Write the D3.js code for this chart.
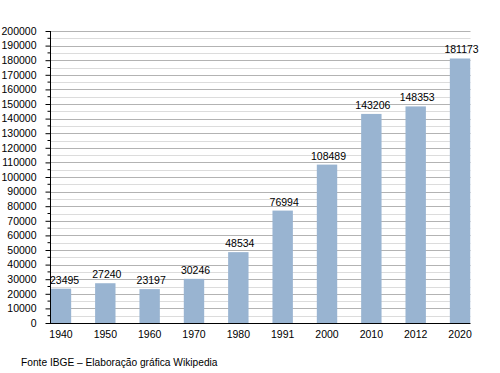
<!DOCTYPE html>
<html>
<head>
<meta charset="utf-8">
<script src="https://cdn.jsdelivr.net/npm/d3@7"></script>
<style>
  html, body { margin: 0; padding: 0; background: #fff; }
  svg { display: block; }
  text { font-family: "Liberation Sans", Arial, sans-serif; fill: #000; }
</style>
</head>
<body>
<svg id="chart" width="500" height="373"></svg>
<script>
const years = ["1940", "1950", "1960", "1970", "1980", "1991", "2000", "2010", "2012", "2020"];
const population = [23495, 27240, 23197, 30246, 48534, 76994, 108489, 143206, 148353, 181173];
const yTicks = d3.range(0, 200001, 10000);
const yMinorTicks = d3.range(5000, 200000, 10000);
const footer = "Fonte IBGE – Elaboração gráfica Wikipedia";

const svg = d3.select("#chart");
const plot = { left: 50, right: 470.5, top: 31, bottom: 323 };

const y = d3.scaleLinear().domain([0, 200000]).range([plot.bottom, plot.top]);
const x = d3.scaleBand().domain(years).range([38.8, 482.2])
  .paddingInner(0.54).paddingOuter(0.27);

// minor gridlines
svg.append("g").selectAll("line").data(yMinorTicks).join("line")
  .attr("x1", plot.left).attr("x2", plot.right)
  .attr("y1", d => Math.round(y(d)) + 0.5).attr("y2", d => Math.round(y(d)) + 0.5)
  .attr("stroke", "#dcdcdc").attr("stroke-width", 1);

// major gridlines
svg.append("g").selectAll("line").data(yTicks.filter(d => d > 0)).join("line")
  .attr("x1", plot.left).attr("x2", plot.right)
  .attr("y1", d => Math.round(y(d)) + 0.5).attr("y2", d => Math.round(y(d)) + 0.5)
  .attr("stroke", "#b3b3b3").attr("stroke-width", 1);

// bars
svg.append("g").selectAll("rect").data(population).join("rect")
  .attr("x", (d, i) => x(years[i]))
  .attr("width", x.bandwidth())
  .attr("y", d => y(d))
  .attr("height", d => y(0) - y(d))
  .attr("fill", "#99b4d1");

// value labels (kept clear of the y axis, as in the original)
svg.append("g").selectAll("text").data(population).join("text")
  .attr("y", d => y(d) - 5)
  .attr("text-anchor", "middle")
  .attr("font-size", "10.5px")
  .text(d => d)
  .attr("x", function(d, i) {
    const half = this.getComputedTextLength() / 2;
    return Math.max(x(years[i]) + x.bandwidth() / 2 + 1.5, plot.left + half);
  });

// y axis
const yAxis = d3.axisLeft(y).tickValues(yTicks).tickSize(5).tickPadding(9).tickFormat(d => d);
const gy = svg.append("g").attr("transform", `translate(${plot.left + 0.5},0)`).call(yAxis);
gy.select(".domain").attr("stroke", "#000").attr("d", `M0,${plot.top}V${plot.bottom}`);
gy.selectAll(".tick line").attr("stroke", "#000");
gy.selectAll(".tick text").attr("font-size", "10.5px").attr("font-family", "Liberation Sans, Arial, sans-serif").attr("fill", "#000");
// minor ticks
gy.append("g").selectAll("line").data(yMinorTicks).join("line")
  .attr("x1", -3).attr("x2", 0)
  .attr("y1", d => y(d)).attr("y2", d => y(d))
  .attr("stroke", "#000");

// x axis
const xAxis = d3.axisBottom(x).tickSize(0).tickPadding(7);
const gx = svg.append("g").attr("transform", `translate(0,${plot.bottom + 0.5})`).call(xAxis);
gx.select(".domain").attr("stroke", "#000").attr("d", `M${plot.left},0H${plot.right}`);
gx.selectAll(".tick text").attr("font-size", "10.5px").attr("font-family", "Liberation Sans, Arial, sans-serif").attr("fill", "#000");

// footer
svg.append("text").attr("x", 21).attr("y", 366)
  .attr("font-size", "10.2px")
  .text(footer);
</script>
</body>
</html>
